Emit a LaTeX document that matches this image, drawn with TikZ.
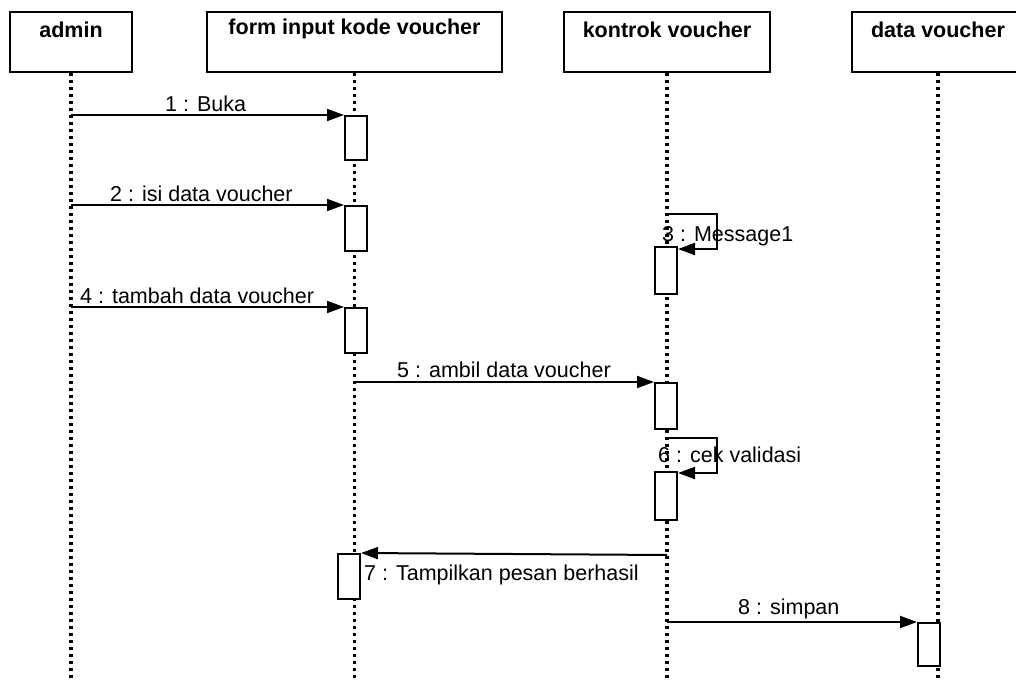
\documentclass[tikz,border=0pt]{standalone}
\usepackage{fontspec}
\setmainfont{Liberation Sans}
\usetikzlibrary{arrows.meta}
\begin{document}
\begin{tikzpicture}[x=1pt,y=-1pt,
  hdr/.style={draw,line width=2pt,minimum height=60pt,inner sep=0pt},
  hdrtext/.style={font=\fontsize{21.5}{24}\selectfont\bfseries},
  lifeline/.style={line width=3.4pt,dash pattern=on 3pt off 4pt},
  act/.style={draw,fill=white,line width=2pt,minimum width=22pt,inner sep=0pt},
  msg/.style={line width=2pt,-{Triangle[length=17pt,width=12pt]}},
  lbl/.style={font=\fontsize{21.5}{24}\selectfont,inner sep=0pt,anchor=west}]
\useasboundingbox (0,0) rectangle (1016,680);
% headers
\node[hdr,minimum width=122pt] (admin) at (71,42) {};
\node[hdrtext] at ([yshift=-19pt]admin.north) {admin};
\node[hdr,minimum width=295pt] (form) at (354.5,42) {};
\node[hdrtext] at ([yshift=-18pt]form.north) {form input kode voucher};
\node[hdr,minimum width=206pt] (kontrok) at (667,42) {};
\node[hdrtext] at ([yshift=-19pt]kontrok.north) {kontrok voucher};
\node[hdr,minimum width=172pt] (data) at (938,42) {};
\node[hdrtext] at ([yshift=-19pt]data.north) {data voucher};
% lifeline ends
\coordinate (adminend) at (71,680);
\coordinate (formend) at (354.5,680);
\coordinate (kontrokend) at (667,680);
\coordinate (dataend) at (938,680);
\draw[lifeline] (admin.south) -- (adminend);
\draw[lifeline] (form.south) -- (formend);
\draw[lifeline] (kontrok.south) -- (kontrokend);
\draw[lifeline] (data.south) -- (dataend);
% activations
\node[act,minimum height=44pt,anchor=north] (a1) at (356,115) {};
\node[act,minimum height=45pt,anchor=north] (a2) at (356,205) {};
\node[act,minimum height=47pt,anchor=north] (a3) at (666,246) {};
\node[act,minimum height=45pt,anchor=north] (a4) at (356,307) {};
\node[act,minimum height=46pt,anchor=north] (a5) at (666,382) {};
\node[act,minimum height=48pt,anchor=north] (a6) at (666,471) {};
\node[act,minimum height=45pt,anchor=north] (a7) at (349,553) {};
\node[act,minimum height=43pt,anchor=north] (a8) at (929,622) {};
% message sources
\coordinate (s1) at (71,115);
\coordinate (s2) at (71,205);
\coordinate (s3) at (667,214);
\coordinate (s4) at (71,307);
\coordinate (s5) at (354.5,382);
\coordinate (s6) at (667,438);
\coordinate (s7) at (667,555);
\coordinate (s8) at (667,622);
% messages
\draw[msg] (s1) -- (a1.north west);
\node[lbl] at (165,104) {1 : Buka};
\draw[msg] (s2) -- (a2.north west);
\node[lbl] at (110,194) {2 : isi data voucher};
\draw[msg] (s3) -- (717,214) -- (717,249) -- ([yshift=-3pt]a3.north east);
\node[lbl] at (662,236) {3 : Message1};
\draw[msg] (s4) -- (a4.north west);
\node[lbl] at (80,296) {4 : tambah data voucher};
\draw[msg] (s5) -- (a5.north west);
\node[lbl] at (397,370) {5 : ambil data voucher};
\draw[msg] (s6) -- (717,438) -- (717,473) -- ([yshift=-2pt]a6.north east);
\node[lbl] at (658,455) {6 : cek validasi};
\draw[msg] (s7) -- (a7.north east);
\node[lbl] at (364,575) {7 : Tampilkan pesan berhasil};
\draw[msg] (s8) -- (a8.north west);
\node[lbl] at (738,609) {8 : simpan};
\end{tikzpicture}
\end{document}
